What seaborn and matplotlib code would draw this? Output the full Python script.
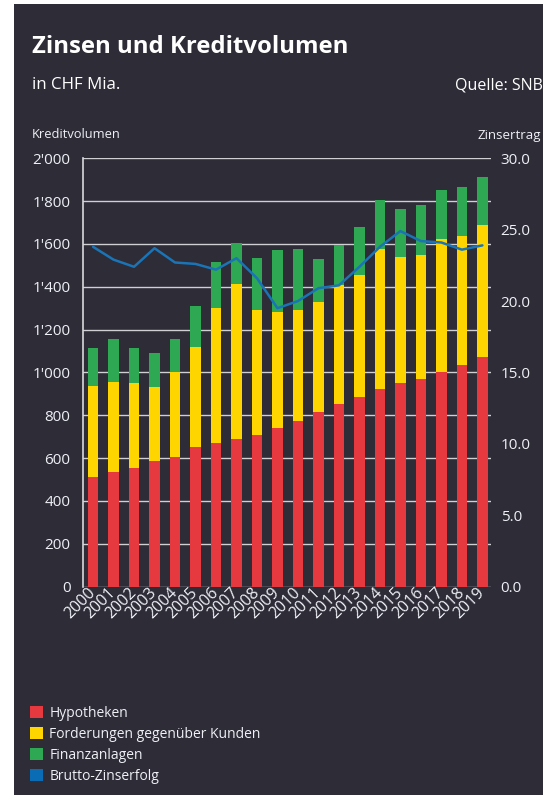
import numpy as np
import pandas as pd
import matplotlib
matplotlib.use("Agg")
import matplotlib.pyplot as plt
import seaborn as sns
from matplotlib.patches import Patch, Rectangle

years = [str(y) for y in range(2000, 2020)]
hypotheken = [513, 533, 552, 585, 604, 650, 669, 688, 707, 739, 772, 815, 854, 887, 924, 951, 970, 1002, 1034, 1072]
forderungen = [425, 424, 398, 346, 397, 468, 634, 726, 584, 545, 519, 514, 555, 570, 654, 590, 578, 623, 604, 616]
finanzanlagen = [178, 198, 166, 160, 154, 191, 212, 190, 243, 288, 287, 200, 188, 224, 227, 223, 235, 229, 230, 224]
zinserfolg = [23.8, 22.9, 22.4, 23.7, 22.7, 22.6, 22.2, 23.0, 21.6, 19.5, 20.0, 20.9, 21.1, 22.4, 23.8, 24.9, 24.2, 24.1, 23.6, 23.9]

left_ticks = [0, 200, 400, 600, 800, 1000, 1200, 1400, 1600, 1800, 2000]
left_labels = ["0", "200", "400", "600", "800", "1'000", "1'200", "1'400", "1'600", "1'800", "2'000"]
right_ticks = [0, 5, 10, 15, 20, 25, 30]
right_labels = ["0.0", "5.0", "10.0", "15.0", "20.0", "25.0", "30.0"]

series_labels = ["Hypotheken", "Forderungen gegenüber Kunden", "Finanzanlagen", "Brutto-Zinserfolg"]
c_red, c_yel, c_grn, c_blue = "#e6393f", "#ffd500", "#2ea853", "#0a6cb5"
c_line = "#1a74b6"
bg = "#2d2c37"
txt = "#eef0f6"

df = pd.DataFrame({
    "Jahr": years,
    "h": hypotheken,
    "hf": np.add(hypotheken, forderungen),
    "hff": np.add(np.add(hypotheken, forderungen), finanzanlagen),
    "z": zinserfolg,
    "pos": np.arange(len(years)),
})

sns.set_theme(style="dark")
plt.rcParams["font.family"] = ["Open Sans", "DejaVu Sans"]

W, H = 543, 795
fig = plt.figure(figsize=(W / 100, H / 100), dpi=100, facecolor="white")
fig.patches.append(Rectangle((14 / W, -0.01), 1.1, (H - 4) / H + 0.01, transform=fig.transFigure,
                             facecolor=bg, edgecolor="none", zorder=-10))

ax = fig.add_axes([83 / W, (H - 586.5) / H, (491 - 83) / W, (586.5 - 158.3) / H])
ax.set_zorder(1)
ax.set_facecolor(bg)
sns.barplot(data=df, x="Jahr", y="hff", color=c_grn, width=0.5, saturation=1, ax=ax, zorder=2)
sns.barplot(data=df, x="Jahr", y="hf", color=c_yel, width=0.5, saturation=1, ax=ax, zorder=3)
sns.barplot(data=df, x="Jahr", y="h", color=c_red, width=0.5, saturation=1, ax=ax, zorder=4)
for p in ax.patches:
    p.set_linewidth(0)

ax.set_ylim(0, 2000)
ax.set_yticks(left_ticks)
ax.set_yticklabels(left_labels)
ax.set_xlabel("")
ax.set_ylabel("")
ax.grid(axis="y", color="#cfcfd4", linewidth=1.0)
ax.grid(axis="x", visible=False)
ax.set_axisbelow(True)
for s in ["top", "right", "bottom"]:
    ax.spines[s].set_visible(False)
ax.spines["left"].set_color("#d8d8dc")
ax.spines["left"].set_linewidth(1.2)
ax.tick_params(axis="y", length=0, pad=9, labelsize=11, labelcolor=txt)
ax.tick_params(axis="x", length=0, pad=3, labelsize=11.5, labelcolor=txt)
for lab in ax.get_xticklabels():
    lab.set_rotation(45)
    lab.set_ha("right")
    lab.set_va("center")
    lab.set_rotation_mode("anchor")

ax2 = ax.twinx()
sns.lineplot(data=df, x="pos", y="z", color=c_line, linewidth=1.8, ax=ax2, zorder=5)
ax2.set_ylim(0, 30)
ax2.set_yticks(right_ticks)
ax2.set_yticklabels(right_labels)
ax2.set_ylabel("")
ax2.set_xlabel("")
ax2.grid(False)
for s in ax2.spines.values():
    s.set_visible(False)
ax2.tick_params(axis="y", length=0, pad=7, labelsize=11, labelcolor=txt)
ax.set_xlim(-0.49, 19.42)

fig.text(32 / W, 1 - 47 / H, "Zinsen und Kreditvolumen", color="white", fontsize=17.2,
         fontweight="bold", va="center", ha="left")
fig.text(32 / W, 1 - 85 / H, "in CHF Mia.", color="white", fontsize=12.2, va="center", ha="left")
fig.text(543 / W, 1 - 85 / H, "Quelle: SNB", color="white", fontsize=11.5, va="center", ha="right")
fig.text(32 / W, 1 - 135 / H, "Kreditvolumen", color=txt, fontsize=9.3, va="center", ha="left")
fig.text(477 / W, 1 - 135 / H, "Zinsertrag", color=txt, fontsize=9.5, va="center", ha="left")

handles = [Patch(facecolor=c, edgecolor="none") for c in [c_red, c_yel, c_grn, c_blue]]
leg = fig.legend(handles, series_labels, loc="upper left", bbox_to_anchor=(30 / W, 1 - 706 / H),
                 frameon=False, fontsize=10, handlelength=0.95, handleheight=0.95,
                 handletextpad=0.45, labelspacing=0.42, borderpad=0, borderaxespad=0)
for t in leg.get_texts():
    t.set_color(txt)

fig.savefig("out.png", dpi=100, facecolor="white")
